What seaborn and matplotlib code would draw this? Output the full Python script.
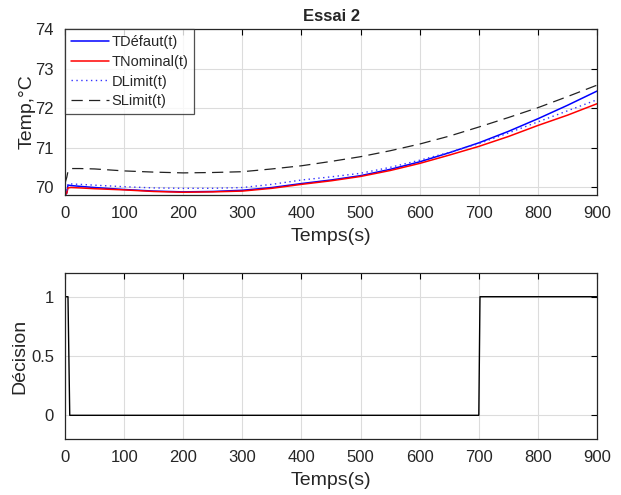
import numpy as np
import pandas as pd
import matplotlib
matplotlib.use("Agg")
import matplotlib.pyplot as plt
import seaborn as sns

# Values
temps = [0, 3, 5, 10, 25, 50, 100, 150, 200, 250, 300, 350, 400, 450, 500,
         550, 600, 650, 700, 750, 800, 850, 900]
t_defaut = [69.8, 69.85, 70.05, 70.04, 70.02, 69.99, 69.94, 69.9, 69.88, 69.89, 69.92, 69.99,
            70.09, 70.18, 70.29, 70.45, 70.64, 70.87, 71.12, 71.41, 71.73, 72.07, 72.43]
t_nominal = [69.8, 69.85, 69.98, 69.99, 69.98, 69.96, 69.93, 69.89, 69.87, 69.88, 69.9, 69.97,
             70.07, 70.16, 70.27, 70.42, 70.6, 70.81, 71.03, 71.28, 71.56, 71.82, 72.11]
d_limit = [69.8, 69.9, 70.08, 70.08, 70.07, 70.05, 70.01, 69.98, 69.97, 69.97, 69.99, 70.07,
           70.18, 70.26, 70.35, 70.5, 70.68, 70.88, 71.1, 71.37, 71.65, 71.93, 72.21]
s_limit = [70.1, 70.25, 70.4, 70.47, 70.47, 70.46, 70.41, 70.38, 70.36, 70.37, 70.39, 70.46,
           70.54, 70.65, 70.77, 70.92, 71.09, 71.29, 71.52, 71.76, 72.01, 72.29, 72.58]

dec_t = [0, 5, 8, 700, 702, 900]
dec_v = [1, 1, 0, 0, 1, 1]

xticks = [0, 100, 200, 300, 400, 500, 600, 700, 800, 900]

sns.set_style("white")
plt.rcParams["font.family"] = ["Liberation Sans", "DejaVu Sans"]

fig = plt.figure(figsize=(6.21, 4.95), dpi=100)
ax1 = fig.add_axes([0.1047, 0.606, 0.8567, 0.3354])
ax2 = fig.add_axes([0.1047, 0.1131, 0.8567, 0.3354])

df = pd.DataFrame({"t": temps, "TDéfaut(t)": t_defaut, "TNominal(t)": t_nominal,
                   "DLimit(t)": d_limit, "SLimit(t)": s_limit})

sns.lineplot(data=df, x="t", y="TDéfaut(t)", ax=ax1, color="#0000ff", lw=1.1, label="TDéfaut(t)")
sns.lineplot(data=df, x="t", y="TNominal(t)", ax=ax1, color="#ff0000", lw=1.1, label="TNominal(t)")
sns.lineplot(data=df, x="t", y="DLimit(t)", ax=ax1, color="#3333ff", lw=1, ls=(0, (1, 2.5)),
             label="DLimit(t)")
sns.lineplot(data=df, x="t", y="SLimit(t)", ax=ax1, color="#222222", lw=0.9, ls=(0, (9, 5)),
             label="SLimit(t)")

ddf = pd.DataFrame({"t": dec_t, "d": dec_v})
sns.lineplot(data=ddf, x="t", y="d", ax=ax2, color="black", lw=1)

for ax in (ax1, ax2):
    ax.set_xlim(0, 900)
    ax.set_xticks(xticks)
    ax.grid(True, color="#dcdcdc", lw=0.8)
    ax.tick_params(direction="in", top=True, right=True, length=4, width=0.8,
                   labelsize=12, colors="black", labelcolor="#262626", pad=8)
    for s in ax.spines.values():
        s.set_color("#262626")
        s.set_linewidth(0.9)
    ax.set_xlabel("Temps(s)", fontsize=14, color="#262626", labelpad=5)

ax1.set_ylim(69.8, 74)
ax1.set_yticks([70, 71, 72, 73, 74])
ax1.set_ylabel("Temp,°C", fontsize=14, color="#262626", labelpad=0)
ax1.set_title("Essai 2", fontsize=12, fontweight="bold", pad=6)

ax2.set_ylim(-0.2, 1.2)
ax2.set_yticks([0, 0.5, 1])
ax2.set_yticklabels(["0", "0.5", "1"])
ax2.set_ylabel("Décision", fontsize=14, color="#262626", labelpad=2)

leg = ax1.legend(loc="upper left", fontsize=10.5, frameon=True, fancybox=False,
                 edgecolor="#262626", borderaxespad=0, handlelength=2.6,
                 borderpad=0.4, labelspacing=0.4, handletextpad=0.2)
leg.get_frame().set_linewidth(0.9)

fig.savefig("out.png", dpi=100)
